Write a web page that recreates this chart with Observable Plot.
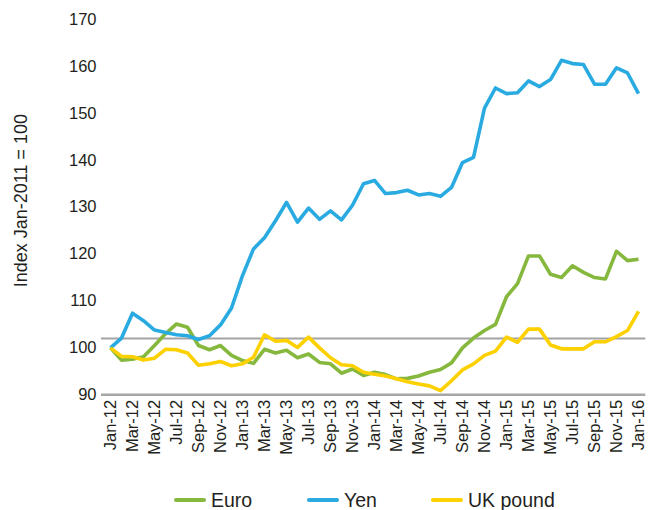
<!DOCTYPE html>
<html>
<head>
<meta charset="utf-8">
<script src="https://cdn.jsdelivr.net/npm/d3@7"></script>
<script src="https://cdn.jsdelivr.net/npm/@observablehq/plot@0.6"></script>
<style>
  html, body { margin: 0; padding: 0; background: #fff; }
  #wrap { position: relative; width: 649px; height: 510px; font-family: "Liberation Sans", Arial, sans-serif; color: #231f20; }
  .item { position: absolute; top: 490px; height: 20px; line-height: 20px; font-size: 19.5px; display: flex; align-items: center; white-space: nowrap; }
  .sw { display: inline-block; width: 32px; height: 4px; border-radius: 2px; margin-right: 5px; }
</style>
</head>
<body>
<div id="wrap"></div>
<script>
// Series (index, Jan-2011 = 100), monthly Jan-12 .. Jan-16
const seriesNames = ["Euro", "Yen", "UK pound"];
const seriesColors = ["#86b83e", "#29abe2", "#fdd000"];
const euro = [100, 97.4, 97.6, 98.1, 100.5, 103, 105.1, 104.4, 100.5, 99.6, 100.5, 98.4,
  97.3, 96.7, 99.7, 98.9, 99.5, 97.9, 98.7, 96.9, 96.6, 94.6, 95.5, 94.1,
  94.8, 94.3, 93.4, 93.5, 94.0, 94.8, 95.4, 96.8, 100, 102.1, 103.7, 105,
  110.9, 113.7, 119.6, 119.6, 115.7, 115.0, 117.5, 116.1, 115.0, 114.7, 120.6, 118.6,
  118.9];
const yen = [100, 102.1, 107.4, 105.8, 103.8, 103.3, 102.8, 102.6, 101.8, 102.6, 104.9, 108.5,
  115.4, 121.1, 123.5, 127.1, 131.0, 126.8, 129.8, 127.4, 129.2, 127.3, 130.4, 135.0,
  135.7, 132.9, 133.1, 133.6, 132.6, 132.9, 132.3, 134.2, 139.5, 140.6, 151.1, 155.4,
  154.2, 154.4, 156.9, 155.7, 157.2, 161.3, 160.6, 160.4, 156.2, 156.2, 159.7, 158.6,
  154.2];
const ukPound = [100, 98.2, 98.1, 97.4, 97.8, 99.7, 99.6, 98.9, 96.3, 96.6, 97.1, 96.2,
  96.6, 98.0, 102.8, 101.4, 101.6, 100.1, 102.3, 100.0, 97.9, 96.4, 96.2, 94.8,
  94.4, 94.0, 93.4, 92.8, 92.3, 91.9, 90.9, 93.0, 95.3, 96.6, 98.4, 99.3,
  102.3, 101.2, 104.0, 104.0, 100.6, 99.8, 99.8, 99.8, 101.3, 101.3, 102.4, 103.7,
  107.8];
const months = d3.utcMonth.range(new Date(Date.UTC(2012, 0, 1)), new Date(Date.UTC(2016, 1, 1)))
  .map(d3.utcFormat("%b-%y"));
const xTickLabels = months.filter((d, i) => i % 2 === 0);
const yTicks = [90, 100, 110, 120, 130, 140, 150, 160, 170];
const refValue = 102;
const yTitle = "Index Jan-2011 = 100";

const allSeries = [euro, yen, ukPound];
const rows = allSeries.flatMap((arr, s) => arr.map((v, i) => ({month: months[i], value: v, series: seriesNames[s]})));

const H = 462;
const chart = Plot.plot({
  width: 649,
  height: H,
  marginLeft: 108,
  marginRight: 9.7,
  marginTop: 19,
  marginBottom: H - 394.3,
  style: {fontFamily: "'Liberation Sans', Arial, sans-serif", fontSize: "16.5px", color: "#231f20", background: "white"},
  x: {type: "point", domain: months, padding: 0, axis: null},
  y: {domain: [90, 170], axis: null},
  color: {domain: seriesNames, range: seriesColors},
  marks: [
    Plot.axisY(yTicks, {tickSize: 0, tickPadding: 12, label: null, fontSize: 16.5}),
    Plot.axisX(xTickLabels, {tickSize: 0, tickPadding: 5, tickRotate: -90, label: null, fontSize: 16.5}),
    Plot.text([yTitle], {text: d => d, frameAnchor: "left", textAnchor: "middle", lineAnchor: "middle", rotate: -90, dx: -87, dy: -6.6, fontSize: 18, fill: "#231f20"}),
    Plot.ruleY([refValue], {stroke: "#a3a3a3", strokeWidth: 2, insetLeft: -7, insetRight: -6}),
    Plot.ruleY([90], {stroke: "#a6a6a6", strokeWidth: 2.5, insetLeft: -7, insetRight: -6}),
    Plot.lineY(rows, {x: "month", y: "value", z: "series", stroke: "series", strokeWidth: 3.6, strokeLinejoin: "round", strokeLinecap: "butt"})
  ]
});
const wrap = document.getElementById("wrap");
wrap.appendChild(chart);

const legendLeft = [174, 307, 431];
seriesNames.forEach((name, i) => {
  const item = document.createElement("div");
  item.className = "item";
  item.style.left = legendLeft[i] + "px";
  const sw = document.createElement("span");
  sw.className = "sw";
  sw.style.background = seriesColors[i];
  const label = document.createElement("span");
  label.textContent = name;
  item.appendChild(sw);
  item.appendChild(label);
  wrap.appendChild(item);
});
</script>
</body>
</html>
